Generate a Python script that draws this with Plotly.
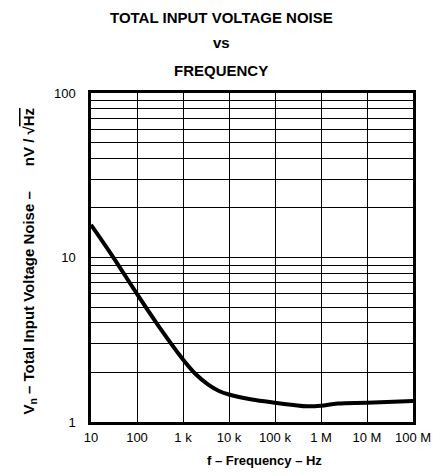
import plotly.graph_objects as go

# Total input voltage noise vs frequency
freq_hz = [10, 30, 100, 300, 1e3, 1.9e3, 3.6e3, 5.9e3, 1e4, 3.16e4, 1e5,
           2.5e5, 5e5, 1e6, 2.3e6, 1e7, 1e8]
noise_nv = [15.8, 10.1, 6.0, 3.8, 2.4, 1.95, 1.68, 1.55, 1.47, 1.37, 1.31,
            1.27, 1.245, 1.255, 1.295, 1.31, 1.34]

x_tick_vals = [10, 100, 1e3, 1e4, 1e5, 1e6, 1e7, 1e8]
x_tick_text = ["10", "100", "1 k", "10 k", "100 k", "1 M", "10 M", "100 M"]

# every integer value of each decade gets a grid line; only decades are labelled
y_tick_vals = [m * 10 ** d for d in range(2) for m in range(1, 10)] + [100]
y_tick_text = [str(v) if v in (1, 10, 100) else "" for v in y_tick_vals]

FONT = "Liberation Sans, Arial, sans-serif"

fig = go.Figure()
fig.add_trace(go.Scatter(
    x=freq_hz, y=noise_nv, mode="lines",
    line=dict(color="black", width=4, shape="spline", smoothing=1.0),
    showlegend=False, hoverinfo="skip",
))

fig.update_layout(
    width=443, height=476,
    margin=dict(l=91, r=23, t=93, b=54),
    paper_bgcolor="white", plot_bgcolor="white",
    font=dict(family=FONT, size=13, color="black"),
    xaxis=dict(
        type="log", range=[1, 8],
        tickvals=x_tick_vals, ticktext=x_tick_text,
        showgrid=True, gridcolor="black", gridwidth=1,
        showline=True, linecolor="black", linewidth=2.5, mirror=True,
        ticks="", zeroline=False, tickfont=dict(size=13),
        ticklabelstandoff=2,
    ),
    yaxis=dict(
        type="log", range=[0, 2],
        tickvals=y_tick_vals, ticktext=y_tick_text,
        showgrid=True, gridcolor="black", gridwidth=1,
        showline=True, linecolor="black", linewidth=2.5, mirror=True,
        ticks="", zeroline=False, tickfont=dict(size=13), ticklabelstandoff=10,
    ),
)

title_lines = [("TOTAL INPUT VOLTAGE NOISE", 1.228), ("vs", 1.152), ("FREQUENCY", 1.067)]
for text, ypos in title_lines:
    fig.add_annotation(
        text=f"<b>{text}</b>", xref="paper", yref="paper",
        x=0.405, y=ypos, xanchor="center", yanchor="middle",
        showarrow=False, font=dict(family=FONT, size=15, color="black"),
    )

fig.add_annotation(
    text="<b>f – Frequency – Hz</b>", xref="paper", yref="paper",
    x=0.54, y=-0.118, xanchor="center", yanchor="middle",
    showarrow=False, font=dict(family=FONT, size=13, color="black"),
)

fig.add_annotation(
    text=("<b>V<sub>n</sub> – Total Input Voltage Noise –      nV / √"
          "<span style='text-decoration:overline'>Hz</span></b>"),
    xref="paper", yref="paper", x=-0.19, y=0.49,
    xanchor="center", yanchor="middle", textangle=-90,
    showarrow=False, font=dict(family=FONT, size=15, color="black"),
)

fig.write_html("out.html")
